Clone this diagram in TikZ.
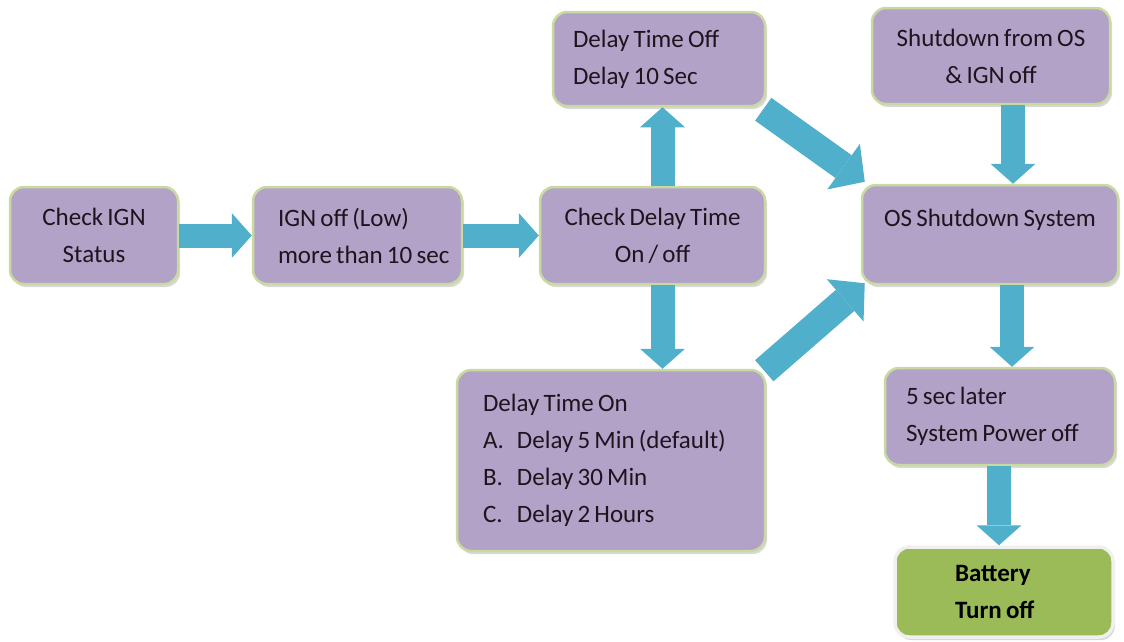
\documentclass[tikz,border=0pt]{standalone}
\usepackage{fontspec}
\setmainfont{Carlito}
\usetikzlibrary{arrows.meta,shadows,calc}
\definecolor{boxfill}{RGB}{178,162,199}
\definecolor{boxline}{RGB}{200,218,160}
\definecolor{battfill}{RGB}{155,187,89}
\definecolor{arrowc}{RGB}{80,175,202}
\definecolor{txt}{RGB}{30,20,30}
\newcommand\ind[1]{\spaceskip=4.2pt plus 1pt\relax\xspaceskip=4.2pt plus 1pt\relax\hspace*{#1}}
\newcommand\itm[1]{\makebox[34pt][l]{#1}}
\newcommand\boxfont{\fontsize{25}{37}\selectfont\spaceskip=4.2pt plus 1pt minus 1pt\relax}
\tikzset{
  box/.style={draw=boxline, line width=2.5pt, fill=boxfill, rounded corners=14pt,
    drop shadow={opacity=0.3, shadow xshift=2pt, shadow yshift=-3pt},
    font=\boxfont, text=txt, inner ysep=0pt},
  lbox/.style={box, inner xsep=0pt, text width=#1, align=left},
  battbox/.style={box, draw=white!94!black, line width=3.5pt, fill=battfill,
    font=\boxfont\bfseries, text=black},
  blk/.style={color=arrowc, line width=24pt,
    -{Triangle[width=45pt,length=20pt,line width=0pt]}},
  blkd/.style={color=arrowc, line width=28pt,
    -{Triangle[width=56pt,length=26pt,line width=0pt]}}
}
\begin{document}
\begin{tikzpicture}[x=1pt,y=-1pt]
\useasboundingbox (0,0) rectangle (1124,641);
\node[box, minimum width=168pt, minimum height=97pt, align=center] (b1) at (94,235.5) {Check IGN\\Status};
\node[lbox=209pt, minimum height=97pt] (b2) at (357.5,235.5) {\ind{25pt}IGN off (Low)\\\ind{25pt}more than 10 sec};
\node[box, minimum width=225pt, minimum height=97pt, align=center] (b3) at (652.5,235.5) {Check Delay Time\\On / off};
\node[lbox=212pt, minimum height=94pt] (b4) at (659,59) {\ind{20pt}Delay Time Off\\\ind{20pt}Delay 10 Sec};
\node[box, minimum width=238pt, minimum height=96pt, align=center] (b5) at (991,56) {Shutdown from OS\\\& IGN off};
\node[box, minimum width=256pt, minimum height=99pt, text height=18pt, text depth=35pt, align=center] (b6) at (990,234.5) {OS Shutdown System};
\node[lbox=308pt, minimum height=181pt] (b7) at (611,460.5) {\ind{26pt}Delay Time On\\\ind{26pt}\itm{A.}Delay 5 Min (default)\\\ind{26pt}\itm{B.}Delay 30 Min\\\ind{26pt}\itm{C.}Delay 2 Hours};
\node[lbox=230pt, minimum height=97pt] (b8) at (1000,416.5) {\ind{21pt}5 sec later\\\ind{21pt}System Power off};
\node[battbox, inner xsep=0pt, text width=218pt, align=left, minimum height=90pt] (b9) at (1004,592) {\ind{60pt}Battery\\\ind{60pt}Turn off};

\draw[blk] (b1.east) -- (b2.west);
\draw[blk] (b2.east) -- (b3.west);
\draw[blk] ([xshift=10pt]b3.north) -- ([xshift=10pt]b3.north |- b4.south);
\draw[blk] ([xshift=10pt]b3.south) -- ([xshift=10pt]b3.south |- b7.north);
\draw[blkd] ($(b4.south east)+(-3,2)$) -- ($(b6.north west)+(4,-2)$);
\draw[blkd] ($(b7.north east)+(-2,2)$) -- ($(b6.south west)+(4,-2)$);
\draw[blk] ([xshift=22pt]b5.south) -- ([xshift=22pt]b5.south |- b6.north);
\draw[blk] ([xshift=22pt]b6.south) -- ([xshift=22pt]b6.south |- b8.north);
\draw[blk] ([xshift=-1pt]b8.south) -- ([xshift=-1pt]b8.south |- b9.north);
\end{tikzpicture}
\end{document}
